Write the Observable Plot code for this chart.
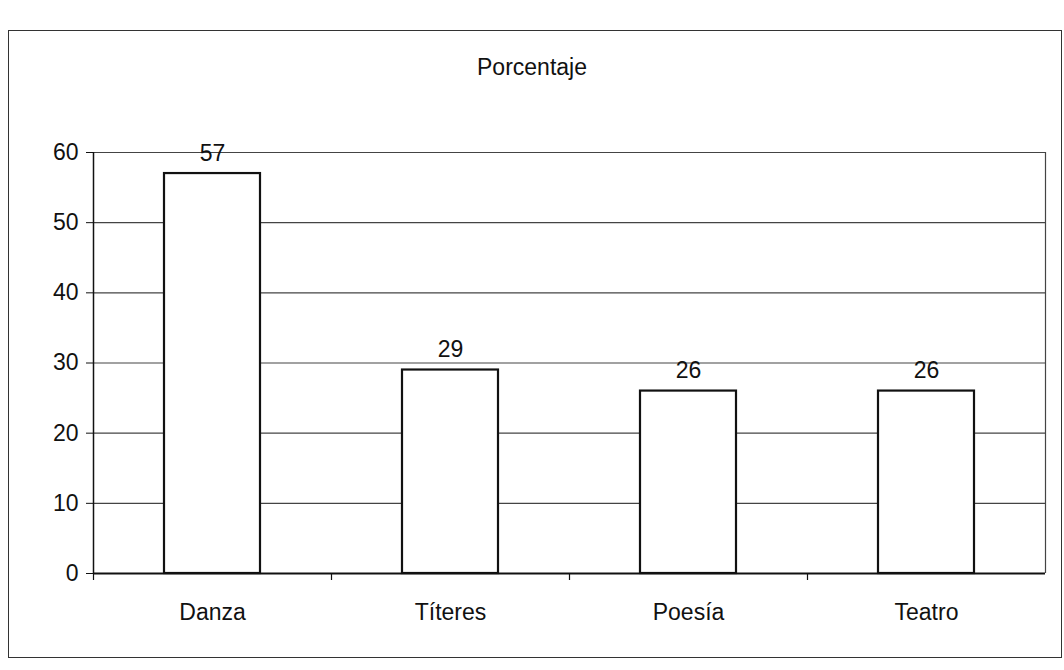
<!DOCTYPE html>
<html>
<head>
<meta charset="utf-8">
<script src="https://cdn.jsdelivr.net/npm/d3@7"></script>
<script src="https://cdn.jsdelivr.net/npm/@observablehq/plot@0.6"></script>
<style>
  html, body { margin: 0; padding: 0; background: #fff; }
  #wrap { position: relative; width: 1064px; height: 670px; font-family: "Liberation Sans", Arial, sans-serif; }
  #box { position: absolute; left: 8px; top: 30px; width: 1054px; height: 628px; border: 1.5px solid #333; box-sizing: border-box; }
  #title { position: absolute; left: 0; width: 1064px; top: 54px; text-align: center; font-size: 23px; color: #111; }
  #chart { position: absolute; left: 0; top: 0; }
</style>
</head>
<body>
<div id="wrap">
  <div id="box"></div>
  <div id="title">Porcentaje</div>
  <div id="chart"></div>
</div>
<script>
const categories = ["Danza", "Títeres", "Poesía", "Teatro"];
const values = [57, 29, 26, 26];
const yTicks = [0, 10, 20, 30, 40, 50, 60];

const data = categories.map((c, i) => ({category: c, value: values[i]}));
const W = 1064, H = 670, mL = 93, mR = 19, mT = 152, mB = 97;
const bw = (W - mL - mR) / categories.length;

const chart = Plot.plot({
  width: W, height: H,
  marginLeft: mL, marginRight: mR, marginTop: mT, marginBottom: mB,
  style: {fontFamily: "'Liberation Sans', Arial, sans-serif", fontSize: "23px", color: "#111", background: "transparent"},
  x: {domain: categories, padding: 0, label: null},
  y: {domain: [0, 60], label: null},
  marks: [
    Plot.ruleY(yTicks.filter(d => d > 0), {stroke: "#444", strokeWidth: 1.2}),
    Plot.ruleX([categories[categories.length - 1]], {dx: bw / 2, y1: 0, y2: 60, stroke: "#444", strokeWidth: 1.2}),
    Plot.barY(data, {x: "category", y: "value", fill: "white", stroke: "#111", strokeWidth: 2.2, insetLeft: 71, insetRight: 71}),
    Plot.text(data, {x: "category", y: "value", text: d => String(d.value), dy: -20, fontSize: 23, fill: "#111"}),
    Plot.axisY({ticks: yTicks, tickSize: 7, tickPadding: 8, tickFormat: d => d, fontSize: 23, stroke: "#111"}),
    Plot.ruleX([0], {x: () => categories[0], dx: -bw / 2, y1: 0, y2: 60, stroke: "#111", strokeWidth: 1.5}),
    Plot.ruleY([0], {stroke: "#111", strokeWidth: 2}),
    Plot.ruleX(categories, {x: d => d, dx: -bw / 2, y1: 0, y2: -1, stroke: "#111", strokeWidth: 1.2}),
    Plot.axisX({tickSize: 0, tickPadding: 30, fontSize: 23})
  ]
});
document.getElementById("chart").appendChild(chart);
</script>
</body>
</html>
